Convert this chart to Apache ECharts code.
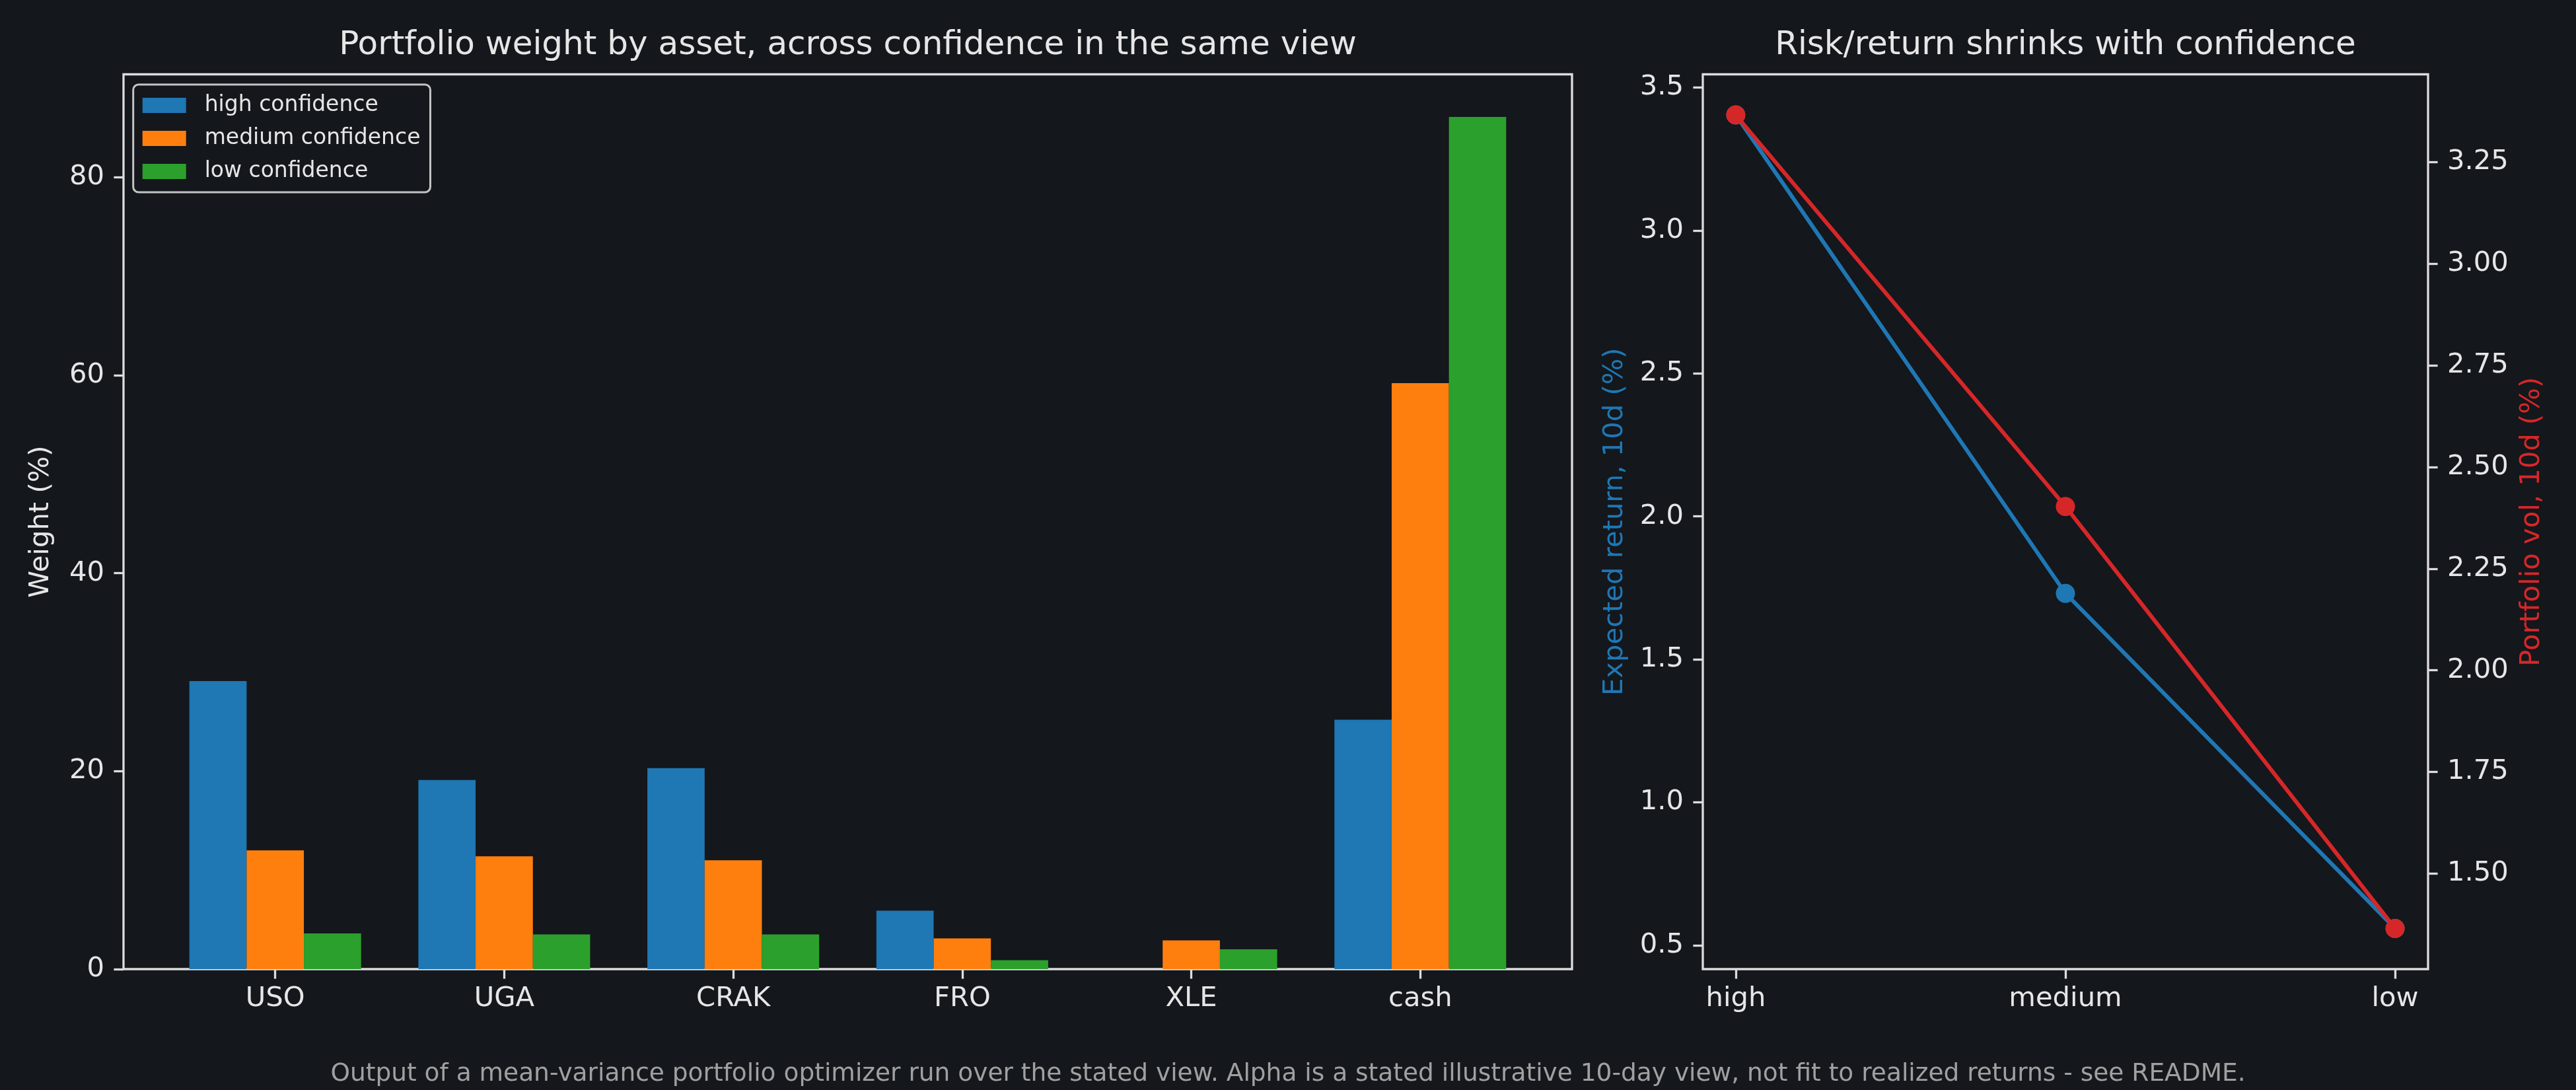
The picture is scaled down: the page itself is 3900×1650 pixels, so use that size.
<!DOCTYPE html>
<html>
<head>
<meta charset="utf-8">
<script src="https://cdn.jsdelivr.net/npm/echarts@6/dist/echarts.min.js"></script>
<style>
  html, body { margin: 0; padding: 0; background: #14171c; }
  #chart { width: 3900px; height: 1650px; }
</style>
</head>
<body>
<div id="chart"></div>
<script>
// 资产与权重 (%)
const assets = ["USO", "UGA", "CRAK", "FRO", "XLE", "cash"];
const highWeights = [29.1, 19.1, 20.3, 5.9, 0.0, 25.2];
const mediumWeights = [12.0, 11.4, 11.0, 3.1, 2.9, 59.2];
const lowWeights = [3.6, 3.5, 3.5, 0.9, 2.0, 86.1];

// 右图：置信度 vs 收益/波动
const confidence = ["high", "medium", "low"];
const expReturn = [3.404, 1.731, 0.559];
const portVol = [3.366, 2.403, 1.365];

// 刻度
const weightTicks = [0, 20, 40, 60, 80];
const returnTicks = [0.5, 1.0, 1.5, 2.0, 2.5, 3.0, 3.5];
const volTicks = [1.5, 1.75, 2.0, 2.25, 2.5, 2.75, 3.0, 3.25];

const BG = "#14171c";
const FG = "#e6e6e6";
const SPINE = "#dcdcdc";
const FONT = "DejaVu Sans";
const BLUE = "#1f77b4", ORANGE = "#ff7f0e", GREEN = "#2ca02c", RED = "#d62728";

// matplotlib 风格 5% 边距
function padded(arr, lo0) {
  const mn = lo0 !== undefined ? lo0 : Math.min(...arr);
  const mx = Math.max(...arr);
  const m = (mx - (lo0 !== undefined ? Math.min(0, mn) : mn)) * 0.05;
  return [lo0 !== undefined ? lo0 : mn - m, mx + m];
}
const wLim = padded([...highWeights, ...mediumWeights, ...lowWeights], 0);
const rLim = padded(expReturn);
const vLim = padded(portVol);

// 画布布局 (px)
const L = { left: 187, top: 112.5, width: 2193, height: 1354.5 };
const R = { left: 2578, top: 112.5, width: 1098, height: 1354.5 };
// 柱图类目带：matplotlib x 范围 [-0.6625, 5.6625]
const band = L.width / 6.325;
const barGrid = { left: L.left + 0.1625 * band, top: L.top, width: 6 * band, height: L.height };
// 折线图：x 范围 [-0.1, 2.1]
const unit = R.width / 2.2;
const lineGrid = { left: R.left + 0.1 * unit, top: R.top, width: 2 * unit, height: R.height };

const tickStyle = { show: true, length: 14.6, lineStyle: { color: SPINE, width: 3.3 } };
const labelStyle = { color: FG, fontFamily: FONT, fontSize: 41.7 };

const chart = echarts.init(document.getElementById("chart"), null, { renderer: "canvas" });

const option = {
  backgroundColor: BG,
  animation: false,
  textStyle: { fontFamily: FONT },
  grid: [
    Object.assign({ show: true, borderColor: SPINE, borderWidth: 3.3, backgroundColor: BG }, L),
    Object.assign({}, barGrid),
    Object.assign({ show: true, borderColor: SPINE, borderWidth: 3.3, backgroundColor: BG }, R),
    Object.assign({}, lineGrid),
  ],
  legend: {
    orient: "vertical",
    left: 201.7,
    top: 128,
    data: ["high confidence", "medium confidence", "low confidence"],
    icon: "rect",
    itemWidth: 66,
    itemHeight: 23,
    itemGap: 17,
    padding: [15, 15, 15, 14],
    backgroundColor: BG,
    borderColor: "#c4c4c4",
    borderWidth: 3,
    borderRadius: 8,
    textStyle: { color: FG, fontFamily: FONT, fontSize: 33, lineHeight: 26, padding: [0, 0, 0, 23] },
  },
  xAxis: [
    { gridIndex: 0, type: "value", min: 0, max: 1, show: false },
    {
      gridIndex: 1,
      type: "category",
      data: assets,
      axisLine: { show: false },
      axisTick: Object.assign({ alignWithLabel: true }, tickStyle),
      axisLabel: Object.assign({ margin: 24 }, labelStyle),
      splitLine: { show: false },
    },
    { gridIndex: 2, type: "value", min: 0, max: 1, show: false },
    {
      gridIndex: 3,
      type: "category",
      boundaryGap: false,
      data: confidence,
      axisLine: { show: false },
      axisTick: tickStyle,
      axisLabel: Object.assign({ margin: 24 }, labelStyle),
      splitLine: { show: false },
    },
  ],
  yAxis: [
    {
      gridIndex: 0,
      type: "value",
      min: wLim[0],
      max: wLim[1],
      name: "Weight (%)",
      nameLocation: "middle",
      nameGap: 104,
      nameTextStyle: { color: FG, fontFamily: FONT, fontSize: 41.7 },
      axisLine: { show: false },
      axisTick: Object.assign({ customValues: weightTicks }, tickStyle),
      axisLabel: Object.assign({ customValues: weightTicks, margin: 29 }, labelStyle),
      splitLine: { show: false },
    },
    { gridIndex: 1, type: "value", min: wLim[0], max: wLim[1], show: false, splitLine: { show: false } },
    {
      gridIndex: 2,
      type: "value",
      position: "left",
      min: rLim[0],
      max: rLim[1],
      name: "Expected return, 10d (%)",
      nameLocation: "middle",
      nameGap: 112,
      nameTextStyle: { color: BLUE, fontFamily: FONT, fontSize: 41.7 },
      axisLine: { show: false },
      axisTick: Object.assign({ customValues: returnTicks }, tickStyle),
      axisLabel: Object.assign({ customValues: returnTicks, margin: 29, formatter: (v) => v.toFixed(1) }, labelStyle),
      splitLine: { show: false },
    },
    {
      gridIndex: 2,
      type: "value",
      position: "right",
      min: vLim[0],
      max: vLim[1],
      name: "Portfolio vol, 10d (%)",
      nameLocation: "middle",
      nameGap: 136,
      nameTextStyle: { color: RED, fontFamily: FONT, fontSize: 41.7 },
      axisLine: { show: false },
      axisTick: Object.assign({ customValues: volTicks }, tickStyle),
      axisLabel: Object.assign({ customValues: volTicks, margin: 29, formatter: (v) => v.toFixed(2) }, labelStyle),
      splitLine: { show: false },
    },
    { gridIndex: 3, type: "value", min: rLim[0], max: rLim[1], show: false, splitLine: { show: false } },
    { gridIndex: 3, type: "value", position: "right", min: vLim[0], max: vLim[1], show: false, splitLine: { show: false } },
  ],
  series: [
    { name: "high confidence", type: "bar", xAxisIndex: 1, yAxisIndex: 1, data: highWeights, barWidth: "25%", barGap: "0%", itemStyle: { color: BLUE } },
    { name: "medium confidence", type: "bar", xAxisIndex: 1, yAxisIndex: 1, data: mediumWeights, barWidth: "25%", barGap: "0%", itemStyle: { color: ORANGE } },
    { name: "low confidence", type: "bar", xAxisIndex: 1, yAxisIndex: 1, data: lowWeights, barWidth: "25%", barGap: "0%", itemStyle: { color: GREEN } },
    {
      name: "Expected return",
      type: "line",
      xAxisIndex: 3,
      yAxisIndex: 4,
      data: expReturn,
      symbol: "circle",
      symbolSize: 29,
      lineStyle: { color: BLUE, width: 6 },
      itemStyle: { color: BLUE },
    },
    {
      name: "Portfolio vol",
      type: "line",
      xAxisIndex: 3,
      yAxisIndex: 5,
      data: portVol,
      symbol: "circle",
      symbolSize: 29,
      lineStyle: { color: RED, width: 6 },
      itemStyle: { color: RED },
    },
  ],
  graphic: [
    {
      type: "text",
      x: L.left + L.width / 2,
      y: 69,
      style: { text: "Portfolio weight by asset, across confidence in the same view", align: "center", verticalAlign: "middle", fill: FG, font: "50px 'DejaVu Sans'" },
    },
    {
      type: "text",
      x: R.left + R.width / 2,
      y: 69,
      style: { text: "Risk/return shrinks with confidence", align: "center", verticalAlign: "middle", fill: FG, font: "50px 'DejaVu Sans'" },
    },
    {
      type: "text",
      x: 1950,
      y: 1626,
      style: {
        text: "Output of a mean-variance portfolio optimizer run over the stated view. Alpha is a stated illustrative 10-day view, not fit to realized returns - see README.",
        align: "center",
        verticalAlign: "middle",
        fill: "#a0a0a0",
        font: "37.5px 'DejaVu Sans'",
      },
    },
  ],
};

chart.setOption(option);
</script>
</body>
</html>
